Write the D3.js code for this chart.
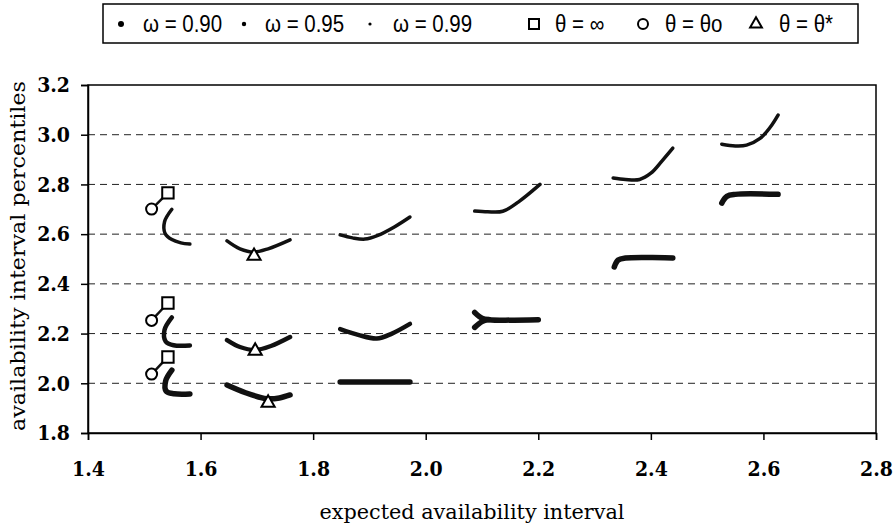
<!DOCTYPE html>
<html>
<head>
<meta charset="utf-8">
<script src="https://cdn.jsdelivr.net/npm/d3@7"></script>
<style>
  body { margin: 0; background: #fff; }
</style>
</head>
<body>
<div id="chart"></div>
<script>
(function () {

    // curves for each omega, every group is one piece of a curve [x, y]
    var omega90 = [
        [[1.549, 2.053], [1.538, 2.010], [1.539, 1.968], [1.553, 1.958], [1.581, 1.957]],
        [[1.647, 1.993], [1.680, 1.962], [1.718, 1.938], [1.740, 1.941], [1.759, 1.953]],
        [[1.848, 2.005], [1.972, 2.005]],
        [[2.087, 2.285], [2.100, 2.262], [2.112, 2.256], [2.200, 2.256]],
        [[2.087, 2.225], [2.100, 2.248], [2.112, 2.256]],
        [[2.335, 2.468], [2.342, 2.496], [2.355, 2.504], [2.439, 2.504]],
        [[2.526, 2.725], [2.535, 2.752], [2.550, 2.760], [2.626, 2.760]]
    ];
    var omega95 = [
        [[1.549, 2.265], [1.536, 2.215], [1.538, 2.168], [1.552, 2.153], [1.581, 2.152]],
        [[1.647, 2.174], [1.670, 2.146], [1.697, 2.134], [1.725, 2.150], [1.759, 2.186]],
        [[1.848, 2.218], [1.880, 2.195], [1.913, 2.180], [1.940, 2.200], [1.972, 2.239]]
    ];
    var omega99 = [
        [[1.549, 2.700], [1.536, 2.650], [1.537, 2.603], [1.549, 2.578], [1.565, 2.565], [1.581, 2.560]],
        [[1.647, 2.573], [1.670, 2.541], [1.695, 2.528], [1.720, 2.541], [1.759, 2.577]],
        [[1.848, 2.597], [1.870, 2.585], [1.892, 2.580], [1.915, 2.595], [1.945, 2.630], [1.972, 2.669]],
        [[2.087, 2.693], [2.110, 2.690], [2.137, 2.692], [2.165, 2.730], [2.203, 2.800]],
        [[2.333, 2.826], [2.355, 2.820], [2.380, 2.820], [2.400, 2.845], [2.420, 2.895], [2.439, 2.946]],
        [[2.526, 2.962], [2.550, 2.955], [2.570, 2.958], [2.594, 2.985], [2.612, 3.030], [2.626, 3.079]]
    ];

    // theta markers
    var thetaInf = [[1.542, 2.766], [1.542, 2.323], [1.542, 2.106]];
    var thetaO = [[1.513, 2.701], [1.513, 2.253], [1.513, 2.037]];
    var thetaStar = [[1.695, 2.512], [1.697, 2.130], [1.720, 1.921]];

    var xTicks = [1.4, 1.6, 1.8, 2.0, 2.2, 2.4, 2.6, 2.8];
    var yTicks = [1.8, 2.0, 2.2, 2.4, 2.6, 2.8, 3.0, 3.2];
    var gridValues = [2.0, 2.2, 2.4, 2.6, 2.8, 3.0];
    var legendLabels = ["\u03c9 = 0.90", "\u03c9 = 0.95", "\u03c9 = 0.99", "\u03b8 = \u221e", "\u03b8 = \u03b8o", "\u03b8 = \u03b8*"];

    var width = 894;
    var height = 526;
    var left = 88, right = 876, top = 85, bottom = 433;
    var serif = "'DejaVu Serif', 'Liberation Serif', serif";
    var serifCond = "'DejaVu Serif Condensed', 'DejaVu Serif', serif";

    var x = d3.scaleLinear().domain([1.4, 2.8]).range([left, right]);
    var y = d3.scaleLinear().domain([1.8, 3.2]).range([bottom, top]);

    var svg = d3.select("#chart").append("svg")
        .attr("width", width)
        .attr("height", height)
        .style("background", "#fff");

    // grid
    svg.selectAll("line.grid")
        .data(gridValues)
        .enter()
        .append("line")
        .attr("class", "grid")
        .attr("x1", left).attr("x2", right)
        .attr("y1", d => y(d)).attr("y2", d => y(d))
        .attr("stroke", "#222")
        .attr("stroke-width", 1)
        .attr("stroke-dasharray", "7,5");

    // frame
    svg.append("rect")
        .attr("x", left).attr("y", top)
        .attr("width", right - left).attr("height", bottom - top)
        .attr("fill", "none")
        .attr("stroke", "#000")
        .attr("stroke-width", 1.5);

    var xAxis = svg.append("g")
        .attr("transform", "translate(0," + bottom + ")")
        .call(d3.axisBottom(x).tickValues(xTicks).tickFormat(d3.format(".1f")).tickSize(7).tickPadding(21));
    var yAxis = svg.append("g")
        .attr("transform", "translate(" + left + ",0)")
        .call(d3.axisLeft(y).tickValues(yTicks).tickFormat(d3.format(".1f")).tickSize(7).tickPadding(11));

    [xAxis, yAxis].forEach(function (g) {
        g.select(".domain").attr("stroke-width", 1.5);
        g.selectAll(".tick line").attr("stroke-width", 1.5);
        g.selectAll(".tick text")
            .attr("font-family", serifCond)
            .attr("font-stretch", "condensed")
            .attr("font-weight", "bold")
            .attr("font-size", 21)
            .attr("fill", "#000");
    });

    svg.append("text")
        .attr("x", (left + right) / 2 - 10)
        .attr("y", 519)
        .attr("text-anchor", "middle")
        .attr("font-family", serif)
        .attr("font-size", 21)
        .attr("textLength", 305)
        .attr("lengthAdjust", "spacingAndGlyphs")
        .text("expected availability interval");

    svg.append("text")
        .attr("transform", "translate(25,256) rotate(-90)")
        .attr("text-anchor", "middle")
        .attr("font-family", serif)
        .attr("font-size", 21)
        .attr("textLength", 350)
        .attr("lengthAdjust", "spacingAndGlyphs")
        .text("availability interval percentiles");

    // curves
    var line = d3.line()
        .x(d => x(d[0]))
        .y(d => y(d[1]))
        .curve(d3.curveCatmullRom);

    function renderCurves(data, w) {
        svg.append("g")
            .selectAll("path")
            .data(data)
            .enter()
            .append("path")
            .attr("d", line)
            .attr("fill", "none")
            .attr("stroke", "#111")
            .attr("stroke-width", w)
            .attr("stroke-linecap", "round")
            .attr("stroke-linejoin", "round");
    }
    renderCurves(omega99, 3.5);
    renderCurves(omega95, 4.5);
    renderCurves(omega90, 5.5);

    // connectors between theta o and theta inf
    svg.append("g")
        .selectAll("line")
        .data(d3.zip(thetaO, thetaInf))
        .enter()
        .append("line")
        .attr("x1", d => x(d[0][0])).attr("y1", d => y(d[0][1]))
        .attr("x2", d => x(d[1][0])).attr("y2", d => y(d[1][1]))
        .attr("stroke", "#111")
        .attr("stroke-width", 2.5);

    var sq = d3.symbol().type(d3.symbolSquare).size(130);
    var tri = d3.symbol().type(d3.symbolTriangle).size(75);

    function renderMarkers(data, shape) {
        svg.append("g")
            .selectAll("path")
            .data(data)
            .enter()
            .append("path")
            .attr("transform", d => "translate(" + x(d[0]) + "," + y(d[1]) + ")")
            .attr("d", shape)
            .attr("fill", "#fff")
            .attr("stroke", "#000")
            .attr("stroke-width", 2);
    }
    renderMarkers(thetaInf, sq);
    renderMarkers(thetaStar, tri);
    svg.append("g")
        .selectAll("circle")
        .data(thetaO)
        .enter()
        .append("circle")
        .attr("cx", d => x(d[0])).attr("cy", d => y(d[1]))
        .attr("r", 5.5)
        .attr("fill", "#fff")
        .attr("stroke", "#000")
        .attr("stroke-width", 2);

    // legend
    var legend = svg.append("g");
    legend.append("rect")
        .attr("x", 103).attr("y", 4)
        .attr("width", 755).attr("height", 39)
        .attr("fill", "#fff")
        .attr("stroke", "#000")
        .attr("stroke-width", 1.5);

    var symX = [121, 244, 370, 534, 643, 756];
    var textX = [143, 265, 393, 555, 665, 779];
    var ly = 24;
    var items = legend.selectAll("g.item")
        .data(legendLabels)
        .enter()
        .append("g")
        .attr("class", "item");

    // squeeze the sans text to look like a narrow face
    items.append("text")
        .attr("transform", (d, i) => "translate(" + textX[i] + "," + (ly + 8) + ") scale(0.89,1)")
        .attr("font-family", "'Liberation Sans Narrow', 'Liberation Sans', Arial, sans-serif")
        .attr("font-size", 23)
        .text(d => d);

    var dotR = [3, 2.2, 1.6];
    items.filter((d, i) => i < 3)
        .append("circle")
        .attr("cx", (d, i) => symX[i])
        .attr("cy", ly)
        .attr("r", (d, i) => dotR[i])
        .attr("fill", "#000");

    var legendShapes = [d3.symbol().type(d3.symbolSquare).size(100), null, d3.symbol().type(d3.symbolTriangle).size(60)];
    items.filter((d, i) => i >= 3)
        .each(function (d, j) {
            var g = d3.select(this);
            var cx = symX[j + 3];
            if (j === 1) {
                g.append("circle").attr("cx", cx).attr("cy", ly).attr("r", 5)
                    .attr("fill", "#fff").attr("stroke", "#000").attr("stroke-width", 2);
            } else {
                g.append("path")
                    .attr("transform", "translate(" + cx + "," + ly + ")")
                    .attr("d", legendShapes[j])
                    .attr("fill", "#fff").attr("stroke", "#000").attr("stroke-width", 2);
            }
        });
})();
</script>
</body>
</html>
